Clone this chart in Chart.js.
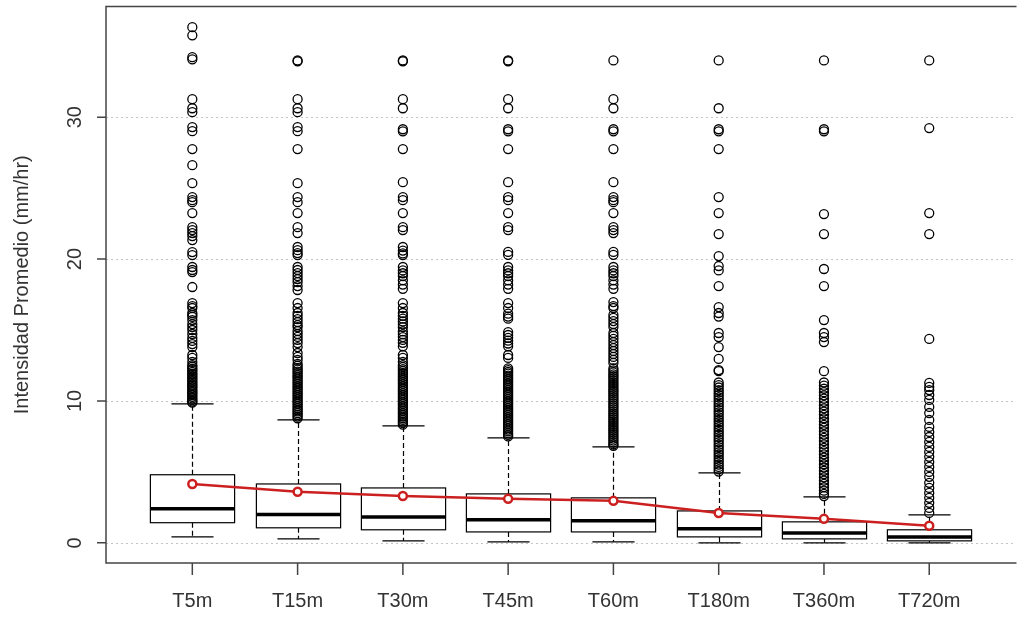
<!DOCTYPE html>
<html>
<head>
<meta charset="utf-8">
<title>Intensidad Promedio</title>
<script src="https://cdn.jsdelivr.net/npm/chart.js@4"></script>
<style>
  html, body { margin: 0; padding: 0; background: #fff; overflow: hidden; }
  canvas { display: block; }
</style>
</head>
<body>
<canvas id="chart" width="1021" height="619"></canvas>
<script>
// durations on the x axis
const categories = ['T5m', 'T15m', 'T30m', 'T45m', 'T60m', 'T180m', 'T360m', 'T720m'];
const yTicks = [0, 10, 20, 30];

// box statistics (mm/hr)
const whiskerLow  = [0.42, 0.28, 0.14, 0.07, 0.07, 0.00, 0.00, 0.00];
const q1          = [1.42, 1.06, 0.92, 0.77, 0.77, 0.42, 0.28, 0.14];
const median      = [2.40, 2.00, 1.83, 1.62, 1.55, 0.99, 0.70, 0.42];
const q3          = [4.80, 4.15, 3.87, 3.45, 3.17, 2.25, 1.48, 0.92];
const whiskerHigh = [9.80, 8.66, 8.24, 7.40, 6.76, 4.93, 3.24, 1.97];
const means       = [4.15, 3.60, 3.30, 3.10, 2.96, 2.10, 1.69, 1.20];

// outliers, one list per duration
const outT5m = [36.34, 35.77, 34.23, 34.08, 31.27, 30.63, 30.35, 29.30, 29.01, 27.75, 26.62,
  25.35, 24.37, 24.15, 24.01, 23.24, 22.25, 22.04, 21.83, 21.62, 21.34, 20.49, 20.28,
  19.44, 19.23, 19.08, 18.03, 16.90, 16.69, 16.55, 16.20, 16.06, 15.92, 15.70, 15.42,
  15.21, 15.00, 14.72, 14.44, 14.23, 14.01, 13.80, 13.24, 13.03, 12.75, 12.52, 12.41,
  12.27, 12.18, 12.05, 11.93, 11.84, 11.71, 11.62, 11.49, 11.38, 11.27, 11.15, 11.06,
  10.94, 10.83, 10.71, 10.62, 10.50, 10.41, 10.29, 10.18, 10.07, 9.96, 9.88];
const outT15m = [34.00, 33.94, 31.27, 30.63, 30.35, 29.30, 29.01, 27.75, 25.35, 24.37,
  24.01, 23.24, 22.25, 21.83, 20.85, 20.63, 20.42, 20.28, 19.44, 19.23, 19.01, 18.80,
  18.59, 18.38, 18.10, 17.82, 16.90, 16.55, 16.20, 15.99, 15.77, 15.56, 15.35, 15.21,
  14.93, 14.72, 14.51, 14.30, 14.08, 13.80, 13.38, 13.10, 12.89, 12.61, 12.48, 12.33,
  12.21, 12.07, 11.95, 11.82, 11.70, 11.58, 11.44, 11.31, 11.19, 11.05, 10.93, 10.80,
  10.66, 10.54, 10.41, 10.28, 10.15, 10.02, 9.89, 9.77, 9.63, 9.51, 9.38, 9.26, 9.14,
  9.02, 8.90, 8.78];
const outT30m = [34.00, 33.94, 31.27, 30.63, 29.15, 29.00, 27.75, 25.42, 24.37, 24.15,
  23.24, 22.25, 22.04, 20.85, 20.60, 20.40, 20.28, 19.44, 19.20, 19.00, 18.80, 18.50,
  18.20, 17.90, 16.90, 16.55, 16.20, 16.00, 15.80, 15.60, 15.40, 15.20, 14.90, 14.70,
  14.50, 14.30, 14.10, 13.85, 13.24, 13.03, 12.75, 12.52, 12.38, 12.24, 12.11, 11.97,
  11.85, 11.72, 11.58, 11.46, 11.33, 11.21, 11.07, 10.94, 10.81, 10.69, 10.55, 10.43,
  10.30, 10.17, 10.04, 9.91, 9.79, 9.66, 9.53, 9.41, 9.28, 9.15, 9.03, 8.90, 8.78,
  8.66, 8.55, 8.44, 8.33];
const outT45m = [34.00, 33.94, 31.27, 30.63, 29.15, 29.00, 27.75, 25.42, 24.37, 24.15,
  23.24, 22.25, 22.04, 20.50, 20.30, 19.44, 19.20, 19.00, 18.80, 18.50, 18.20, 17.90,
  16.90, 16.55, 16.15, 15.95, 15.80, 14.85, 14.65, 14.45, 14.25, 14.05, 13.85, 13.24,
  13.03, 12.30, 12.17, 12.04, 11.92, 11.79, 11.66, 11.53, 11.41, 11.28, 11.16, 11.03,
  10.90, 10.78, 10.65, 10.52, 10.40, 10.27, 10.14, 10.01, 9.89, 9.76, 9.63, 9.51, 9.38,
  9.25, 9.12, 9.00, 8.87, 8.74, 8.62, 8.49, 8.36, 8.24, 8.11, 7.98, 7.86, 7.73, 7.61,
  7.50];
const outT60m = [34.00, 31.27, 30.63, 29.15, 29.00, 27.75, 25.42, 24.37, 24.15, 24.01,
  23.24, 22.25, 22.04, 21.83, 20.50, 20.30, 19.44, 19.20, 19.00, 18.80, 18.50, 18.20,
  17.90, 16.97, 16.69, 16.55, 16.06, 15.85, 15.63, 15.42, 15.21, 14.79, 14.58, 14.37,
  14.15, 13.94, 13.73, 13.52, 13.31, 13.10, 12.89, 12.68, 12.30, 12.16, 12.02, 11.88,
  11.75, 11.61, 11.47, 11.33, 11.20, 11.06, 10.92, 10.78, 10.65, 10.51, 10.37, 10.23,
  10.10, 9.96, 9.82, 9.68, 9.55, 9.41, 9.27, 9.13, 9.00, 8.86, 8.72, 8.58, 8.45, 8.31,
  8.17, 8.03, 7.90, 7.76, 7.62, 7.48, 7.35, 7.21, 7.07, 6.94, 6.84];
const outT180m = [34.00, 30.63, 29.15, 29.00, 27.75, 24.37, 23.24, 21.76, 20.21, 19.51,
  19.20, 18.10, 16.62, 16.20, 15.95, 14.79, 14.50, 13.80, 12.96, 12.18, 12.10, 11.30,
  11.12, 10.95, 10.77, 10.60, 10.42, 10.25, 10.07, 9.90, 9.72, 9.55, 9.37, 9.20, 9.02,
  8.85, 8.67, 8.50, 8.32, 8.15, 7.97, 7.80, 7.62, 7.45, 7.27, 7.10, 6.92, 6.75, 6.57,
  6.40, 6.22, 6.05, 5.87, 5.70, 5.52, 5.35, 5.18, 5.02];
const outT360m = [34.00, 29.15, 29.00, 23.17, 21.76, 19.30, 18.10, 15.70, 14.79, 14.50,
  14.15, 12.10, 11.30, 11.08, 10.86, 10.62, 10.40, 10.16, 9.94, 9.70, 9.48, 9.25, 9.02,
  8.78, 8.55, 8.32, 8.10, 7.86, 7.63, 7.40, 7.17, 6.94, 6.70, 6.47, 6.24, 6.01, 5.78,
  5.54, 5.31, 5.08, 4.85, 4.62, 4.38, 4.15, 3.92, 3.68, 3.45, 3.30];
const outT720m = [34.00, 29.23, 23.24, 21.76, 14.37, 11.27, 10.99, 10.77, 10.42, 10.07,
  9.58, 9.15, 8.66, 8.17, 7.82, 7.46, 7.11, 6.76, 6.41, 6.06, 5.70, 5.35, 5.00, 4.65,
  4.23, 3.87, 3.52, 3.17, 2.82, 2.46, 2.11];
const outliers = [outT5m, outT15m, outT30m, outT45m, outT60m, outT180m, outT360m, outT720m];

const LABEL_FONT = '20px "Liberation Sans", Arial, sans-serif';
const TEXT_COLOR = '#333';
const RED = '#cc2020';

// R style boxplot furniture: grid, frame, ticks, boxes and labels
const boxplotPlugin = {
  id: 'boxplot',
  beforeDatasetsDraw(chart) {
    const { ctx, chartArea: a, scales: { x, y } } = chart;
    ctx.save();

    // dotted horizontal grid
    ctx.strokeStyle = '#c4c4c4';
    ctx.lineWidth = 1;
    ctx.setLineDash([2, 3]);
    yTicks.forEach(v => {
      const py = Math.round(y.getPixelForValue(v)) + 0.5;
      ctx.beginPath(); ctx.moveTo(a.left, py); ctx.lineTo(a.right, py); ctx.stroke();
    });
    ctx.setLineDash([]);

    // boxes
    categories.forEach((c, i) => {
      const cx = Math.round(x.getPixelForValue(i + 1)) + 0.5;
      const half = x.getPixelForValue(i + 1.4) - x.getPixelForValue(i + 1);
      const capHalf = half / 2;
      const pLo = y.getPixelForValue(whiskerLow[i]);
      const pQ1 = y.getPixelForValue(q1[i]);
      const pMed = y.getPixelForValue(median[i]);
      const pQ3 = y.getPixelForValue(q3[i]);
      const pHi = y.getPixelForValue(whiskerHigh[i]);

      ctx.strokeStyle = '#000';
      ctx.lineWidth = 1.2;
      ctx.setLineDash([5, 3]);
      ctx.beginPath();
      ctx.moveTo(cx, pQ3); ctx.lineTo(cx, pHi);
      ctx.moveTo(cx, pQ1); ctx.lineTo(cx, pLo);
      ctx.stroke();
      ctx.setLineDash([]);

      ctx.beginPath();
      ctx.moveTo(cx - capHalf, pHi); ctx.lineTo(cx + capHalf, pHi);
      ctx.moveTo(cx - capHalf, pLo); ctx.lineTo(cx + capHalf, pLo);
      ctx.stroke();

      ctx.fillStyle = '#fff';
      ctx.fillRect(cx - half, pQ3, half * 2, pQ1 - pQ3);
      ctx.strokeRect(cx - half, pQ3, half * 2, pQ1 - pQ3);

      ctx.lineWidth = 3.5;
      ctx.beginPath();
      ctx.moveTo(cx - half, pMed); ctx.lineTo(cx + half, pMed);
      ctx.stroke();
    });

    // frame (right side falls off the picture)
    ctx.strokeStyle = '#444';
    ctx.lineWidth = 1.5;
    ctx.beginPath();
    ctx.moveTo(a.right + 2, a.top); ctx.lineTo(a.left, a.top);
    ctx.lineTo(a.left, a.bottom); ctx.lineTo(a.right + 2, a.bottom);
    ctx.stroke();

    // ticks
    ctx.beginPath();
    yTicks.forEach(v => {
      const py = y.getPixelForValue(v);
      ctx.moveTo(a.left - 9, py); ctx.lineTo(a.left, py);
    });
    categories.forEach((c, i) => {
      const px = x.getPixelForValue(i + 1);
      ctx.moveTo(px, a.bottom); ctx.lineTo(px, a.bottom + 12);
    });
    ctx.stroke();

    // labels
    ctx.fillStyle = TEXT_COLOR;
    ctx.font = LABEL_FONT;
    ctx.textAlign = 'center';
    ctx.textBaseline = 'middle';
    categories.forEach((c, i) => {
      ctx.fillText(c, x.getPixelForValue(i + 1), 601);
    });
    yTicks.forEach(v => {
      ctx.save();
      ctx.translate(75, y.getPixelForValue(v));
      ctx.rotate(-Math.PI / 2);
      ctx.fillText(String(v), 0, 0);
      ctx.restore();
    });
    ctx.save();
    ctx.translate(22, (a.top + a.bottom) / 2);
    ctx.rotate(-Math.PI / 2);
    ctx.fillText('Intensidad Promedio (mm/hr)', 0, 0);
    ctx.restore();

    ctx.restore();
  }
};

const outlierPoints = [];
outliers.forEach((list, i) => list.forEach(v => outlierPoints.push({ x: i + 1, y: v })));

new Chart(document.getElementById('chart'), {
  type: 'scatter',
  data: {
    datasets: [
      {
        type: 'line',
        label: 'Media',
        data: means.map((m, i) => ({ x: i + 1, y: m })),
        borderColor: RED,
        borderWidth: 2.5,
        pointRadius: 4,
        pointBorderWidth: 2.5,
        pointBorderColor: RED,
        pointBackgroundColor: '#fff',
        tension: 0,
        order: 0
      },
      {
        label: 'Atípicos',
        data: outlierPoints,
        pointRadius: 4.5,
        pointBorderWidth: 1.3,
        pointBorderColor: '#000',
        pointBackgroundColor: 'rgba(0,0,0,0)',
        order: 1
      }
    ]
  },
  options: {
    responsive: false,
    animation: false,
    layout: { padding: { left: 106, top: 6, right: 0, bottom: 56 } },
    plugins: { legend: { display: false }, tooltip: { enabled: false } },
    scales: {
      x: { type: 'linear', min: 0.18, max: 8.81, display: false },
      y: { type: 'linear', min: -1.42, max: 37.8, display: false }
    }
  },
  plugins: [boxplotPlugin]
});
</script>
</body>
</html>
